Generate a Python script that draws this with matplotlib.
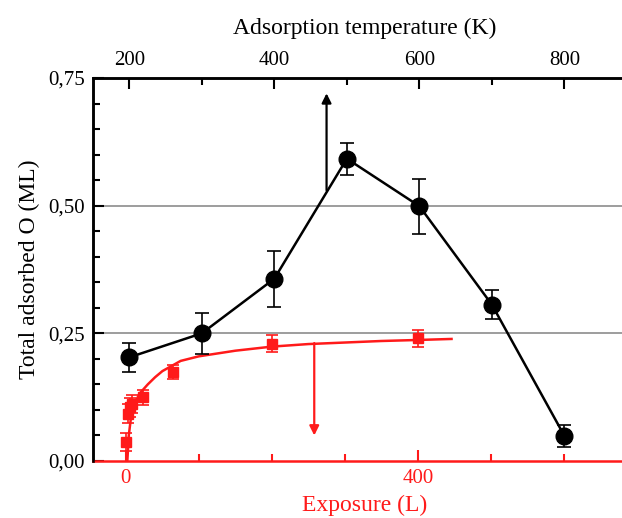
import numpy as np
import matplotlib.pyplot as plt
from matplotlib.ticker import MultipleLocator, FuncFormatter

# Black series: total adsorbed O vs adsorption temperature
temp_K = [200, 300, 400, 500, 600, 700, 800]
cov_T = [0.203, 0.250, 0.357, 0.592, 0.499, 0.306, 0.049]
err_T = [0.028, 0.040, 0.055, 0.031, 0.054, 0.028, 0.021]

# Red series: total adsorbed O vs exposure
expo_L = [0.5, 2.5, 5.5, 8, 24, 65, 200, 400]
cov_L = [0.037, 0.093, 0.105, 0.112, 0.125, 0.174, 0.230, 0.240]
err_L = [0.018, 0.018, 0.018, 0.018, 0.015, 0.014, 0.017, 0.017]

# Red fit curve
fit_L = [2, 4, 7, 10, 15, 20, 30, 40, 50, 75, 100, 150, 200, 250, 300, 350, 400, 446]
fit_c = [0.0, 0.050, 0.085, 0.104, 0.122, 0.134, 0.150, 0.164, 0.176, 0.196, 0.205,
         0.216, 0.224, 0.229, 0.232, 0.235, 0.237, 0.239]

# Arrows (x, y_start, y_end)
arrow_T = (472, 0.53, 0.72)
arrow_L = (258, 0.231, 0.05)

plt.rcParams['font.family'] = ['Liberation Serif', 'DejaVu Serif']

fig = plt.figure(figsize=(6.22, 5.18), dpi=100)
ax = fig.add_axes([93 / 622, 57 / 518, 544 / 622, 383 / 518])
axt = ax.twiny()

red = '#ff1a1a'
comma = FuncFormatter(lambda v, p: ('%.2f' % v).replace('.', ','))

# Grey reference lines
for yy in [0.25, 0.50]:
    ax.axhline(yy, color='#8c8c8c', lw=1.2, zorder=1)

# Exposure data (bottom axis)
ax.plot(fit_L, fit_c, '-', color=red, lw=1.8, zorder=2)
ax.errorbar(expo_L, cov_L, yerr=err_L, fmt='s', color=red, ms=7,
            capsize=4, elinewidth=1.2, capthick=1.2, zorder=3)
ax.annotate('', xy=(arrow_L[0], arrow_L[2]), xytext=(arrow_L[0], arrow_L[1]),
            arrowprops=dict(arrowstyle='-|>', color=red, lw=1.6,
                            mutation_scale=14, shrinkA=0, shrinkB=0))

# Temperature data (top axis)
axt.errorbar(temp_K, cov_T, yerr=err_T, fmt='o-', color='black', ms=12,
             lw=1.8, capsize=5, elinewidth=1.2, capthick=1.2, zorder=4)
axt.annotate('', xy=(arrow_T[0], arrow_T[2]), xytext=(arrow_T[0], arrow_T[1]),
             arrowprops=dict(arrowstyle='-|>', color='black', lw=1.6,
                             mutation_scale=14, shrinkA=0, shrinkB=0))

# Limits
ax.set_ylim(0, 0.75)
ax.set_xlim(-45, 700)
axt.set_xlim(150, 900)

# Left axis
ax.yaxis.set_major_locator(MultipleLocator(0.25))
ax.yaxis.set_minor_locator(MultipleLocator(0.05))
ax.yaxis.set_major_formatter(comma)
ax.set_ylabel('Total adsorbed O (ML)', fontsize=17, labelpad=6)

# Bottom axis (red)
ax.xaxis.set_major_locator(MultipleLocator(400))
ax.xaxis.set_minor_locator(MultipleLocator(100))
ax.set_xlabel('Exposure (L)', fontsize=17, color=red, labelpad=5)
ax.tick_params(axis='x', which='both', colors=red, direction='in')
ax.spines['bottom'].set_color(red)
ax.spines['bottom'].set_linewidth(1.8)

# Top axis
axt.xaxis.set_major_locator(MultipleLocator(200))
axt.xaxis.set_minor_locator(MultipleLocator(100))
axt.set_xlabel('Adsorption temperature (K)', fontsize=17, labelpad=12)
axt.tick_params(axis='x', which='both', direction='in')

for a in [ax, axt]:
    a.tick_params(which='major', length=8, width=1.5, labelsize=15, pad=6)
    a.tick_params(which='minor', length=5, width=1.5)
    a.spines['right'].set_visible(False)
    a.spines['top'].set_linewidth(1.8)
    a.spines['left'].set_linewidth(1.8)
ax.tick_params(axis='y', which='both', direction='in')
axt.spines['bottom'].set_visible(False)

plt.savefig('out.png', dpi=100)
